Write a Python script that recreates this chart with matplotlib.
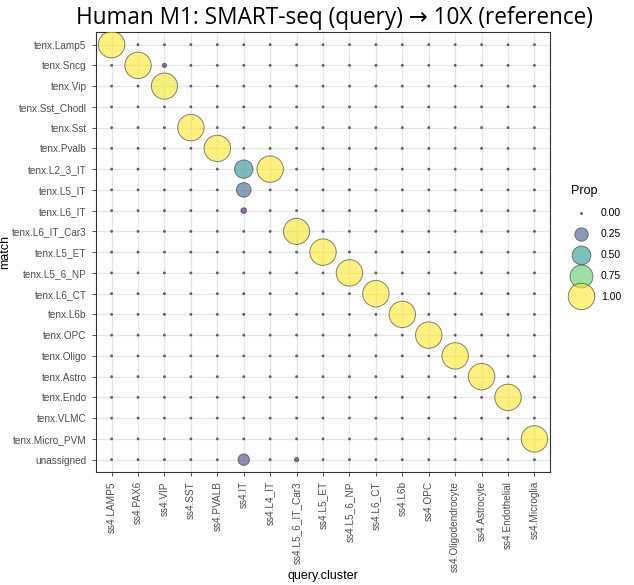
#!/usr/bin/env python3
"""Dot plot: Human M1 SMART-seq query clusters mapped onto 10X reference."""

import matplotlib
matplotlib.use("Agg")
import matplotlib.pyplot as plt
from matplotlib.lines import Line2D
import numpy as np

# query clusters (x axis)
query_clusters = ["ss4.LAMP5", "ss4.PAX6", "ss4.VIP", "ss4.SST", "ss4.PVALB",
                  "ss4.IT", "ss4.L4_IT", "ss4.L5_6_IT_Car3", "ss4.L5_ET",
                  "ss4.L5_6_NP", "ss4.L6_CT", "ss4.L6b", "ss4.OPC",
                  "ss4.Oligodendrocyte", "ss4.Astrocyte", "ss4.Endothelial",
                  "ss4.Microglia"]
# reference matches (y axis, top to bottom)
matches = ["tenx.Lamp5", "tenx.Sncg", "tenx.Vip", "tenx.Sst_Chodl", "tenx.Sst",
           "tenx.Pvalb", "tenx.L2_3_IT", "tenx.L5_IT", "tenx.L6_IT",
           "tenx.L6_IT_Car3", "tenx.L5_ET", "tenx.L5_6_NP", "tenx.L6_CT",
           "tenx.L6b", "tenx.OPC", "tenx.Oligo", "tenx.Astro", "tenx.Endo",
           "tenx.VLMC", "tenx.Micro_PVM", "unassigned"]

# non-zero proportions: (match, query cluster, prop)
nonzero = [
    ("tenx.Lamp5", "ss4.LAMP5", 1.00),
    ("tenx.Sncg", "ss4.PAX6", 1.00),
    ("tenx.Sncg", "ss4.VIP", 0.02),
    ("tenx.Vip", "ss4.VIP", 0.98),
    ("tenx.Sst", "ss4.SST", 1.00),
    ("tenx.Pvalb", "ss4.PVALB", 1.00),
    ("tenx.L2_3_IT", "ss4.IT", 0.48),
    ("tenx.L2_3_IT", "ss4.L4_IT", 1.00),
    ("tenx.L5_IT", "ss4.IT", 0.30),
    ("tenx.L6_IT", "ss4.IT", 0.04),
    ("tenx.L6_IT_Car3", "ss4.L5_6_IT_Car3", 0.98),
    ("tenx.L5_ET", "ss4.L5_ET", 1.00),
    ("tenx.L5_6_NP", "ss4.L5_6_NP", 1.00),
    ("tenx.L6_CT", "ss4.L6_CT", 1.00),
    ("tenx.L6b", "ss4.L6b", 1.00),
    ("tenx.OPC", "ss4.OPC", 1.00),
    ("tenx.Oligo", "ss4.Oligodendrocyte", 1.00),
    ("tenx.Astro", "ss4.Astrocyte", 1.00),
    ("tenx.Endo", "ss4.Endothelial", 1.00),
    ("tenx.Micro_PVM", "ss4.Microglia", 1.00),
    ("unassigned", "ss4.IT", 0.18),
    ("unassigned", "ss4.L5_6_IT_Car3", 0.02),
]

legend_breaks = [0.00, 0.25, 0.50, 0.75, 1.00]


def size_of(p):
    return 2 + 360 * np.asarray(p)


def main():
    plt.rcParams["font.family"] = ["Liberation Sans", "DejaVu Sans"]

    prop = np.zeros((len(matches), len(query_clusters)))
    for m, q, p in nonzero:
        prop[matches.index(m), query_clusters.index(q)] = p

    yy, xx = np.meshgrid(np.arange(len(matches)), np.arange(len(query_clusters)), indexing="ij")
    xs, ys, ps = xx.ravel(), yy.ravel(), prop.ravel()
    order = np.argsort(ps)

    cmap = plt.get_cmap("viridis")
    fig = plt.figure(figsize=(6.34, 5.85), dpi=100)
    ax = fig.add_axes([0.151, 0.193, 0.717, 0.752])

    ax.scatter(xs[order], ys[order], s=size_of(ps[order]), c=ps[order], cmap=cmap,
               vmin=0, vmax=1, alpha=0.58, edgecolors="#2a2a2a", linewidths=0.7, zorder=3)

    ax.set_xlim(-0.6, len(query_clusters) - 0.4)
    ax.set_ylim(len(matches) - 0.4, -0.6)
    ax.set_xticks(range(len(query_clusters)))
    ax.set_xticklabels(query_clusters, rotation=90, ha="center", va="top")
    ax.set_yticks(range(len(matches)))
    ax.set_yticklabels(matches)
    ax.tick_params(labelsize=7.2, labelcolor="#4D4D4D", color="#333333", length=3, width=0.6)
    ax.grid(True, color="#E6E6E6", linewidth=0.9, zorder=0)
    ax.set_axisbelow(True)
    for sp in ax.spines.values():
        sp.set_color("#333333")
        sp.set_linewidth(0.8)

    ax.set_xlabel("query.cluster", fontsize=9)
    ax.xaxis.set_label_coords(0.5, -0.223)
    ax.set_ylabel("match", fontsize=9)
    ax.yaxis.set_label_coords(-0.185, 0.5)

    fig.text(0.527, 0.969, "Human M1: SMART-seq (query) \u2192 10X (reference)",
             ha="center", va="center", fontsize=16.3,
             family=["Open Sans", "DejaVu Sans"])

    handles = [Line2D([], [], linestyle="none", marker="o",
                      markersize=np.sqrt(size_of(b)),
                      markerfacecolor=cmap(b), alpha=0.58,
                      markeredgecolor="#2a2a2a", markeredgewidth=0.7)
               for b in legend_breaks]
    leg = fig.legend(handles, [f"{b:.2f}" for b in legend_breaks], title="Prop",
                     loc="upper left", bbox_to_anchor=(0.900, 0.683), frameon=False,
                     fontsize=7.5, title_fontsize=9, labelspacing=1.05,
                     handletextpad=0.9, borderaxespad=0, borderpad=0)
    leg._legend_box.align = "left"

    fig.savefig("out.png", dpi=100)
    plt.close(fig)


if __name__ == "__main__":
    main()
